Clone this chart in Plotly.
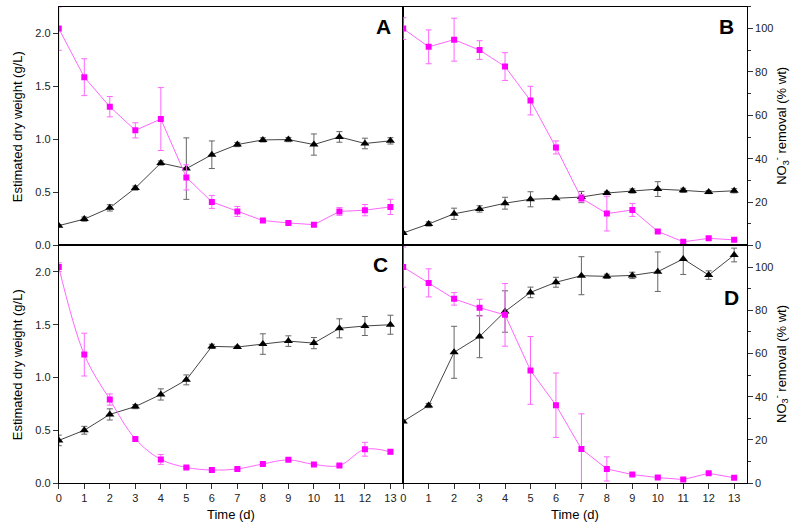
import plotly.graph_objects as go

days = list(range(14))

# Panel A
A_dw = [0.187, 0.249, 0.355, 0.542, 0.778, 0.725, 0.856, 0.952, 0.996, 0.999, 0.952, 1.024, 0.962, 0.987]
A_dw_err = [0.01, 0.02, 0.03, 0.02, 0.02, 0.29, 0.13, 0.02, 0.02, 0.02, 0.10, 0.05, 0.05, 0.03]
A_no3 = [100, 77.6, 64.0, 53.1, 58.3, 31.4, 20.1, 15.7, 11.5, 10.4, 9.6, 15.7, 16.3, 17.8]
A_no3_err = [10, 8.5, 4.7, 3.5, 14.5, 5.8, 3.0, 2.3, 0.8, 0.6, 0.6, 1.8, 2.6, 3.5]

# Panel B
B_dw = [0.118, 0.203, 0.299, 0.345, 0.399, 0.436, 0.445, 0.457, 0.495, 0.514, 0.532, 0.52, 0.504, 0.516]
B_dw_err = [0.01, 0.02, 0.053, 0.03, 0.056, 0.071, 0.01, 0.053, 0.015, 0.02, 0.07, 0.02, 0.015, 0.02]
B_no3 = [100, 91.6, 94.9, 90.1, 82.5, 66.8, 45.2, 21.8, 14.7, 16.4, 6.5, 1.7, 3.3, 2.6]
B_no3_err = [5.0, 7.8, 9.9, 4.3, 6.4, 6.6, 3.0, 1.7, 8.0, 3.0, 0.5, 0.8, 0.8, 0.6]

# Panel C
C_dw = [0.405, 0.501, 0.651, 0.725, 0.840, 0.978, 1.295, 1.289, 1.317, 1.345, 1.326, 1.466, 1.488, 1.500]
C_dw_err = [0.05, 0.037, 0.053, 0.02, 0.053, 0.047, 0.02, 0.01, 0.097, 0.05, 0.053, 0.09, 0.09, 0.09]
C_no3 = [100, 59.5, 38.7, 20.5, 11.0, 7.3, 6.1, 6.6, 8.9, 10.8, 8.7, 8.2, 15.7, 14.5]
C_no3_err = [2, 9.9, 2.6, 0.5, 2.3, 0.5, 0.5, 0.5, 0.5, 0.5, 0.5, 0.5, 3.2, 1.0]

# Panel D
D_dw = [0.585, 0.735, 1.239, 1.388, 1.625, 1.806, 1.902, 1.964, 1.958, 1.967, 2.002, 2.123, 1.970, 2.160]
D_dw_err = [0.01, 0.02, 0.246, 0.2, 0.196, 0.05, 0.047, 0.18, 0.02, 0.03, 0.187, 0.147, 0.04, 0.065]
D_no3 = [100, 92.7, 85.3, 81.2, 77.9, 52.2, 36.1, 15.8, 6.6, 4.0, 2.6, 1.7, 4.6, 2.5]
D_no3_err = [9.3, 6.5, 2.9, 3.9, 14.5, 15.7, 14.9, 16.3, 5.6, 0.5, 0.5, 0.5, 0.5, 0.5]

panel_labels = ["A", "B", "C", "D"]
left_title = "Estimated dry weight (g/L)"
right_title = "NO<sub>3</sub><sup>-</sup> removal (% wt)"
x_title = "Time (d)"

W, H = 797, 532
FONT = "Arial, Liberation Sans, sans-serif"
xl0, xmid, xr1 = 56 / W, 401.7 / W, 746.7 / W
yb0, ymid, yt1 = 1 - 488.7 / H, 1 - 248.3 / H, 1 - 7 / H

panels = [
    dict(dw=A_dw, dwe=A_dw_err, no3=A_no3, no3e=A_no3_err, xd=[xl0, xmid], yd=[ymid, yt1], left=True, bottom=False, shape="linear"),
    dict(dw=B_dw, dwe=B_dw_err, no3=B_no3, no3e=B_no3_err, xd=[xmid, xr1], yd=[ymid, yt1], left=False, bottom=False, shape="linear"),
    dict(dw=C_dw, dwe=C_dw_err, no3=C_no3, no3e=C_no3_err, xd=[xl0, xmid], yd=[yb0, ymid], left=True, bottom=True, shape="spline"),
    dict(dw=D_dw, dwe=D_dw_err, no3=D_no3, no3e=D_no3_err, xd=[xmid, xr1], yd=[yb0, ymid], left=False, bottom=True, shape="linear"),
]

fig = go.Figure()
layout = {}
tickfont = dict(family=FONT, size=11, color="#222")

for i, p in enumerate(panels):
    xi = i + 1
    yl = 2 * i + 1
    yr = 2 * i + 2
    xname = "x" if xi == 1 else f"x{xi}"
    ylname = "y" if yl == 1 else f"y{yl}"
    yrname = f"y{yr}"

    fig.add_trace(go.Scatter(
        x=days, y=p["dw"], xaxis=xname, yaxis=ylname, mode="lines+markers",
        line=dict(color="#444", width=1),
        marker=dict(symbol="triangle-up", size=8, color="black"),
        error_y=dict(type="data", array=p["dwe"], visible=True, color="#666", thickness=1, width=3),
        showlegend=False,
    ))
    fig.add_trace(go.Scatter(
        x=days, y=p["no3"], xaxis=xname, yaxis=yrname, mode="lines+markers",
        line=dict(color="#FF66FF", width=1, shape=p["shape"]),
        marker=dict(symbol="square", size=6, color="#FF00FF"),
        error_y=dict(type="data", array=p["no3e"], visible=True, color="#FF66FF", thickness=1, width=3),
        showlegend=False,
    ))

    layout[f"xaxis{xi if xi > 1 else ''}"] = dict(
        domain=p["xd"], range=[0, 13.5], anchor=ylname,
        showline=True, linecolor="black", linewidth=1, mirror=True,
        showgrid=False, zeroline=False,
        ticks="outside" if p["bottom"] else "", ticklen=5, tickcolor="#333",
        dtick=1, tick0=0, showticklabels=p["bottom"], tickfont=tickfont,
    )
    if p["left"]:
        layout[f"yaxis{yl if yl > 1 else ''}"] = dict(
            domain=p["yd"], range=[0, 2.25], anchor=xname,
            showline=True, linecolor="black", linewidth=1, mirror=True,
            showgrid=False, zeroline=False, ticks="outside", ticklen=5, tickcolor="#333",
            dtick=0.5, tick0=0, tickformat=".1f", tickfont=tickfont,
        )
        layout[f"yaxis{yr}"] = dict(
            range=[0, 110], overlaying=ylname, anchor=xname, side="right",
            visible=False,
        )
    else:
        layout[f"yaxis{yl}"] = dict(
            domain=p["yd"], range=[0, 2.25], anchor=xname, visible=False,
        )
        layout[f"yaxis{yr}"] = dict(
            range=[0, 110], overlaying=ylname, anchor=xname, side="right",
            showline=True, linecolor="black", linewidth=1, mirror=True,
            showgrid=False, zeroline=False, ticks="outside", ticklen=5, tickcolor="#333",
            dtick=20, tick0=0, tickfont=tickfont,
            minor=dict(dtick=10, ticks="outside", ticklen=3, tickcolor="#333", showgrid=False),
        )

annotations = []
letter_pos = [(382, 26.7), (726.7, 27), (379, 268), (731, 300.7)]
for lab, (lx, ly) in zip(panel_labels, letter_pos):
    annotations.append(dict(
        text=f"<b>{lab}</b>", x=lx / W, y=1 - ly / H, xref="paper", yref="paper",
        showarrow=False, xanchor="center", yanchor="middle",
        font=dict(family=FONT, size=21, color="black"),
    ))
for cy in [(7 + 248.3) / 2, (248.3 + 488.7) / 2]:
    annotations.append(dict(
        text=left_title, x=14 / W, y=1 - cy / H, xref="paper", yref="paper",
        showarrow=False, textangle=-90, xanchor="center", yanchor="middle",
        font=dict(family=FONT, size=13, color="black"),
    ))
    annotations.append(dict(
        text=right_title, x=781.5 / W, y=1 - cy / H, xref="paper", yref="paper",
        showarrow=False, textangle=-90, xanchor="center", yanchor="middle",
        font=dict(family=FONT, size=13, color="black"),
    ))
for cx in [(56 + 401.7) / 2, (401.7 + 746.7) / 2]:
    annotations.append(dict(
        text=x_title, x=cx / W, y=1 - 520 / H, xref="paper", yref="paper",
        showarrow=False, xanchor="center", yanchor="middle",
        font=dict(family=FONT, size=13, color="black"),
    ))

fig.update_layout(
    width=W, height=H,
    margin=dict(l=0, r=0, t=0, b=0),
    paper_bgcolor="white", plot_bgcolor="white",
    font=dict(family=FONT, size=11, color="#222"),
    annotations=annotations,
    **layout,
)

fig.write_html(
    "out.html",
    config={"displayModeBar": False},
    post_script="document.body.style.margin='0px';document.body.style.padding='0px';",
)
